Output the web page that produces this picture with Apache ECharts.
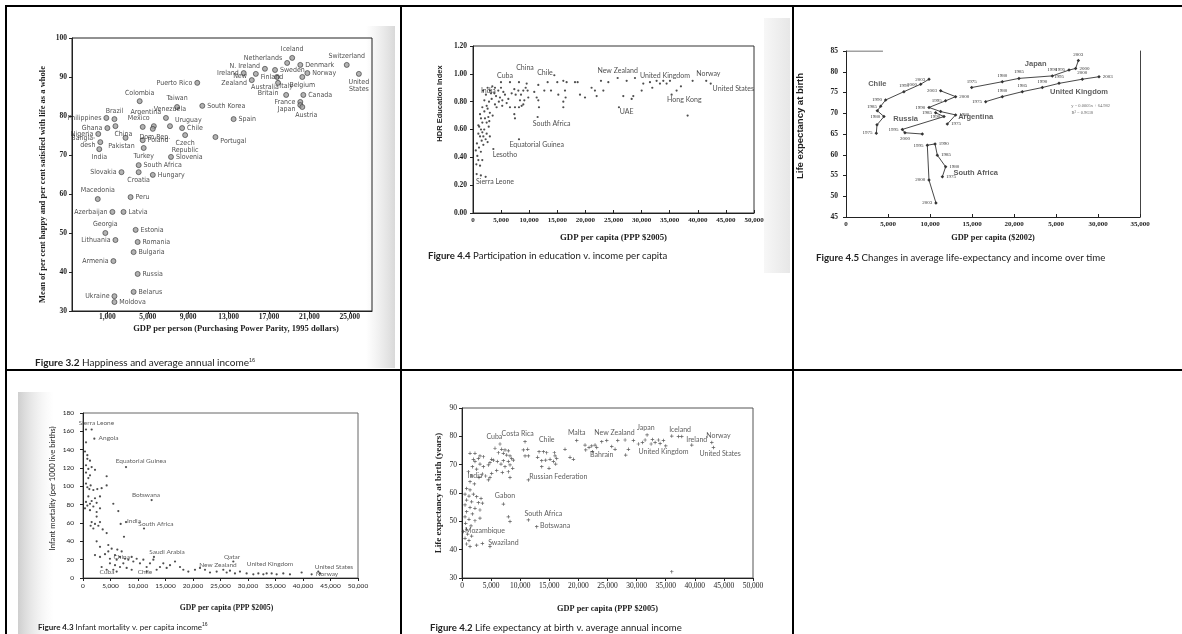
<!DOCTYPE html>
<html>
<head>
<meta charset="utf-8">
<script src="https://cdn.jsdelivr.net/npm/echarts@6.0.0/dist/echarts.min.js"></script>
<style>
html,body{margin:0;padding:0;background:#fff;}
#chart{width:1182px;height:634px;}
</style>
</head>
<body>
<div id="chart"></div>
<script>
// ===== Figure 3.2: Happiness and average annual income =====
const happyNames = ['Puerto Rico','Colombia','Taiwan','Philippines','Brazil','Argentina','Venezuela','Mexico','Uruguay','Ghana',
  'China','Dom.Rep.','Chile','Nigeria','Czech Republic','Poland','Pakistan','Bangladesh','India','Turkey',
  'Slovenia','South Africa','Slovakia','Croatia','Hungary','Iceland','Netherlands','Denmark','Switzerland','N. Ireland',
  'Sweden','Ireland','Finland','Norway','United States','Australia','New Zealand','Belgium','Britain','Italy',
  'Canada','France','Japan','Austria','South Korea','Spain','Portugal','Macedonia','Peru','Azerbaijan',
  'Latvia','Georgia','Estonia','Lithuania','Romania','Bulgaria','Armenia','Russia','Belarus','Ukraine','Moldova'];
const happyGdp = [9900,4200,7900,900,1700,5600,6800,4500,7200,1000,
  1800,5500,8400,100,8700,4500,2800,300,200,4600,
  7300,4100,2400,4100,5500,19300,18800,20100,24700,16600,
  17600,14500,15700,20800,25900,17800,15300,20300,17900,18700,
  20400,20100,20100,20300,10400,13500,11700,50,3300,1500,
  2600,800,3800,1800,4000,3600,1600,4000,3600,1700,1700];
const happyScore = [88.5,83.8,82.3,79.5,79.2,77.4,79.5,77.2,77.4,76.9,
  77.4,76.7,76.9,75.4,75.1,73.8,74.4,73.3,71.5,71.8,
  69.5,67.4,65.6,65.6,64.9,94.9,93.6,93.1,93.1,92.1,
  91.8,91.0,90.8,91.0,90.8,90.0,89.2,90.0,88.5,85.4,
  85.4,83.6,82.8,82.3,82.6,79.2,74.6,58.7,59.2,55.4,
  55.4,50.0,50.8,48.2,47.7,45.1,42.8,39.5,34.9,33.8,32.3];
const happyXTicks = [1000,5000,9000,13000,17000,21000,25000];

// ===== Figure 4.4: Participation in education v. income per capita =====
const eduPoints = [
 [650,0.28],[1400,0.27],[2250,0.26],[600,0.35],[1250,0.34],[950,0.38],[1650,0.38],
 [770,0.41],[1400,0.44],[500,0.45],[1070,0.47],[1840,0.49],[700,0.50],[1540,0.52],[2250,0.53],[2600,0.51],
 [1250,0.55],[1840,0.55],[3000,0.55],[950,0.57],[1660,0.58],[2430,0.57],[1420,0.60],[2000,0.60],
 [950,0.63],[1100,0.62],[2800,0.62],[1660,0.65],[2430,0.65],[2900,0.66],[1420,0.68],[2130,0.68],[2730,0.69],
 [1250,0.71],[3500,0.70],[2020,0.73],[3000,0.72],[2600,0.75],[1660,0.76],[2430,0.77],
 [2020,0.81],[2850,0.80],[3320,0.82],[3910,0.78],[4200,0.76],[3800,0.86],[2300,0.85],[1800,0.88],[2600,0.90],[3200,0.86],
 [3020,0.88],[3440,0.91],[3910,0.90],[4500,0.88],[4980,0.90],[5400,0.87],[4100,0.84],[4600,0.80],[5200,0.77],
 [5690,0.85],[4800,0.83],[5220,0.81],[5990,0.79],[6580,0.76],[6290,0.82],
 [6880,0.86],[7350,0.89],[7590,0.85],[8070,0.88],[8540,0.85],[8950,0.88],
 [9370,0.90],[8360,0.81],[9130,0.81],[7470,0.76],[8180,0.76],[8660,0.77],
 [7350,0.71],[7470,0.68],[4980,0.94],[6580,0.94],[8180,0.94],[9720,0.88],[9840,0.83],[8950,0.78],[9550,0.93],
 [11500,0.69],[8180,0.53],[3620,0.46],
 [10900,0.87],[11330,0.83],[11620,0.81],[11740,0.76],[11620,0.92],[12690,0.88],[13280,0.94],[13880,0.88],
 [14470,0.99],[15000,0.94],[15180,0.85],[16070,0.95],[16370,0.88],[16660,0.94],[16480,0.83],[16070,0.76],[16070,0.80],
 [18150,0.94],[18620,0.94],[19040,0.85],[19930,0.83],[21100,0.90],[21700,0.88],[22000,0.84],[22770,0.95],
 [24080,0.94],[23190,0.88],[25740,0.97],[26740,0.84],[27340,0.95],[28230,0.82],[28520,0.84],[28820,0.97],
 [30010,0.88],[30300,0.93],[31490,0.94],[31900,0.90],[32670,0.95],[33270,0.93],[33860,0.95],[34450,0.93],[35050,0.95],
 [36230,0.88],[37000,0.91],[39080,0.95],[41500,0.95],[42300,0.93],[35340,0.85],[25970,0.76],[38190,0.70]
];
const eduLabelNames = ['China','Cuba','Chile','India','New Zealand','United Kingdom','Norway','United States','Hong Kong','UAE','South Africa','Equatorial Guinea','Lesotho','Sierra Leone'];
const eduLabelX = [9250,5690,12810,2730,25740,34160,41870,46310,37600,27340,13990,11330,5690,3910];
const eduLabelY = [1.045,0.986,1.01,0.879,1.021,0.986,1.002,0.890,0.812,0.724,0.640,0.493,0.421,0.224];

// ===== Figure 4.5: Changes in average life-expectancy and income over time =====
const chileYears = [1975,1978,1980,1983,1985,1990,1995,2000,2003];
const chileGdp   = [3610,3690,4520,3730,4130,4720,6900,8890,9880];
const chileLife  = [65.2,67.2,69.2,70.6,71.7,73.2,75.2,77.0,78.2];
const russiaYears = [1985,1990,1995,2000,2003];
const russiaGdp   = [10670,11670,6706,7020,9087];
const russiaLife  = [70.1,69.2,66.1,65.3,65.0];
const argYears = [1975,1980,1985,1990,1995,2000,2003];
const argGdp   = [12060,13050,11270,9880,11860,13050,11270];
const argLife  = [67.4,69.6,70.4,71.4,73.0,74.0,75.4];
const japanYears = [1975,1980,1985,1990,1995,2000,2003];
const japanGdp   = [14960,18610,20590,24560,26550,27340,27660];
const japanLife  = [76.2,77.6,78.4,79.0,80.4,80.8,82.7];
const ukYears = [1975,1980,1985,1990,1995,2000,2003];
const ukGdp   = [16630,18610,20990,23370,25360,28130,30120];
const ukLife  = [72.8,74.0,75.2,76.2,77.2,78.2,78.8];
const saYears = [1975,1980,1985,1990,1995,2000,2003];
const saGdp   = [11470,11860,10870,10600,9680,9880,10710];
const saLife  = [54.7,57.1,59.9,62.6,62.3,53.9,48.4];
const lifeXTickLabels = ['0','5,000','10,000','15,000','20,000','5,000','30,000','35,000'];
const trendNames = ['Chile','Russia','Argentina','Japan','United Kingdom','South Africa'];
const trendNameX = [3730,7100,15440,22580,27740,15440];
const trendNameY = [77.0,68.7,69.0,81.9,75.2,55.5];
const trendNoteText = ['y = 0.0005x + 64.982','R² = 0.9638'];
const trendNoteX = [29130,28130];
const trendNoteY = [71.7,70.1];

// ===== Figure 4.3: Infant mortality v. per capita income =====
const imrPoints = [
 [545,162],[1576,162],[545,148],[2060,152],[364,138],[788,134],[790,130],[1270,128],[545,123],[1575,121],
 [970,119],[2180,118],[545,115],[1270,112],[970,109],[545,103],[1390,101],[790,99],[1150,97],[1880,96],
 [2600,97],[3390,98],[4300,101],[4300,111],[970,89],[2180,87],[3090,89],[1575,84],[545,83],[1270,81],
 [2480,82],[790,79],[1880,78],[364,76],[3090,76],[1270,74],[2480,72],[5510,81],[6420,73],[2480,67],
 [1575,61],[2180,59],[1390,57],[2790,57],[3090,61],[1880,54],[3580,53],[4300,49],[6850,59],[7820,61],
 [11090,54],[7450,45],[2480,40],[3090,34],[4600,36],[5210,32],[2180,25],[3090,23],[4000,26],[4600,29],
 [4900,21],[5820,25],[6120,20],[6730,23],[7640,21],[8240,20],[8850,23],[9150,18],[9760,21],[10360,16],
 [10970,20],[5820,14],[6730,12],[7940,11],[4300,9],[5510,9],[8850,9],[3390,12],[4900,16],[7030,29],
 [6240,31],[7330,16],[11570,12],[12180,16],[12790,20],[13390,9],[14000,12],[14600,16],[15210,11],[15820,14],
 [16730,18],[17640,12],[18240,9],[19150,7],[20360,9],[12900,23],[27330,18],[21270,11],[22180,9],[23090,6],
 [24300,7],[25510,9],[26120,6],[26720,8],[27630,5],[28540,7],[29750,5],[30970,4],[31880,5],[32790,4],
 [33390,5],[34300,5],[35210,4],[36420,5],[37630,4],[39750,6],[41570,4],[42780,7],[43090,5],[6120,7],
 [11570,7],[7820,121],[12480,85]
];
const imrLabelNames = ['Sierra Leone','Angola','Equatorial Guinea','Botswana','India','South Africa','Saudi Arabia','Qatar','New Zealand','United Kingdom','United States','Norway','Cuba','China','Chile'];
const imrLabelX = [2450,4640,10540,11450,9270,13270,15270,27090,24540,34000,45630,44360,4360,7030,11270];
const imrLabelY = [169,152.7,127.6,90.5,62.2,59.5,28.4,22.9,14.2,15.3,12.0,4.4,6.9,23.3,6.9];

// ===== Figure 4.2: Life expectancy at birth v. average annual income =====
const lifePoints = [
 [6530,77.3],[5670,75.8],[6820,75.4],[7390,75.2],[7960,74.9],[6250,74.2],[7100,74.0],[7680,73.4],[8250,73.1],[8540,72.2],
 [8820,71.6],[7960,71.1],[7100,71.4],[6070,71.1],[5390,71.6],[4810,70.7],[6700,70.2],[7390,69.3],[8250,69.9],[8710,68.7],
 [7960,67.5],[8250,65.5],[6930,67.2],[5960,67.9],
 [10830,78.1],[11290,75.4],[10540,75.2],[10830,73.1],[11400,73.1],[11400,64.6],
 [13240,74.6],[13980,74.6],[14550,74.2],[12990,72.6],[13700,71.4],[14380,71.6],[15130,71.9],[13700,69.3],[14950,68.7],
 [15870,74.2],[15990,73.1],[16270,72.2],[15700,71.1],[16100,70.2],[17700,75.4],[18560,72.6],[19140,71.9],
 [19710,78.5],[21140,76.9],[21260,75.2],[21830,76.1],[22290,76.6],[22860,76.9],[23150,76.1],[22400,74.6],[24010,78.1],
 [24870,78.5],[25730,76.4],[26300,75.4],[26760,78.5],[28020,78.7],[28590,75.4],[28130,73.4],[29450,78.5],[30310,77.3],
 [31000,77.8],[31460,78.7],[31800,80.5],[32490,77.3],[32720,78.9],[33180,77.8],[33750,78.7],[34040,77.5],[34610,78.5],
 [35010,76.6],[36040,80.1],[37190,79.9],[37760,79.9],[39480,76.9],[42920,77.8],[43200,76.1],[36040,32.2],
 [1380,74.0],[2230,74.0],[3090,73.1],[1950,71.9],[2810,72.2],[3670,72.8],[2230,71.1],[3090,70.2],[3670,69.3],[4530,69.9],
 [5100,71.9],[1780,69.3],[2520,68.4],[1090,67.5],[1660,66.0],[2920,65.5],[3500,66.7],[4070,66.0],[4810,65.5],[5100,66.9],
 [4530,64.6],[1380,64.0],[2120,63.2],
 [800,61.6],[1380,61.1],[520,59.6],[1200,58.9],[1950,59.6],[2520,58.7],[3270,58.1],[800,57.5],[1660,56.9],[2810,56.6],
 [3500,56.4],[520,55.8],[1380,54.9],[2230,54.6],[3090,54.0],[800,53.4],[1780,52.6],[520,51.6],[1200,50.7],[2230,50.2],
 [3090,51.1],[630,49.3],[1550,48.4],[800,47.2],[230,46.4],[970,45.5],[1660,44.8],[520,44.0],[1200,43.2],[800,42.0],
 [1380,41.1],[2520,41.6],[3500,42.2],[4810,41.1],
 [7110,56.1],[7960,51.6],[8250,49.9],[11400,50.5],[12840,48.1]
];
const lifeLabelNames = ['Cuba','Costa Rica','Chile','Malta','New Zealand','Japan','Iceland','Ireland','Norway','Bahrain','United Kingdom','United States','India','Russian Federation','Gabon','South Africa','Botswana','Mozambique','Swaziland'];
const lifeLabelX = [5560,9570,14550,19710,26190,31570,37470,40340,44060,24010,34610,44350,2230,16560,7390,13980,15990,3950,7110];
const lifeLabelY = [79.9,80.8,78.7,81.3,81.3,83.1,82.2,78.9,80.2,73.4,74.6,74.0,66.0,65.8,58.9,52.6,48.4,46.7,42.5];

// ===== presentation settings (not data) =====
const SERIF = "'Liberation Serif','DejaVu Serif',serif";
const SANS = "Lato,'Open Sans',sans-serif";
const NARROW = "'Liberation Sans Narrow','DejaVu Sans Condensed',sans-serif";
const ARIAL = "'Liberation Sans',Arial,sans-serif";
const INK = '#222';

const happyLabelPlace = {
 'Puerto Rico':['left'],'Colombia':['top'],'Taiwan':['top'],'Philippines':['left'],'Brazil':['top'],
 'Argentina':['top',-8,-6],'Venezuela':['top',4,0],'Mexico':['top',-4,0],'Uruguay':['right',0,-6],'Ghana':['left'],
 'China':['bottom',8,0],'Dom.Rep.':['bottom',2,0],'Chile':['right'],'Nigeria':['left'],'Czech Republic':['bottom'],
 'Poland':['right'],'Pakistan':['bottom',-4,0],'Bangladesh':['left'],'India':['bottom'],'Turkey':['bottom'],
 'Slovenia':['right'],'South Africa':['right'],'Slovakia':['left'],'Croatia':['bottom'],'Hungary':['right'],
 'Iceland':['top'],'Netherlands':['left',0,-5],'Denmark':['right'],'Switzerland':['top'],'N. Ireland':['left',0,-3],
 'Sweden':['right'],'Ireland':['left'],'Finland':['right',0,3],'Norway':['right'],'United States':['bottom'],
 'Australia':['bottom',-12,2],'New Zealand':['left'],'Belgium':['bottom'],'Britain':['bottom',-10,2],'Italy':['top'],
 'Canada':['right'],'France':['left'],'Japan':['left',0,4],'Austria':['bottom',4,0],'South Korea':['right'],
 'Spain':['right'],'Portugal':['right',0,4],'Macedonia':['top'],'Peru':['right'],'Azerbaijan':['left'],
 'Latvia':['right'],'Georgia':['top'],'Estonia':['right'],'Lithuania':['left'],'Romania':['right'],
 'Bulgaria':['right'],'Armenia':['left'],'Russia':['right'],'Belarus':['right'],'Ukraine':['left'],'Moldova':['right']
};
const happyLabelText = {'Czech Republic':'Czech\nRepublic','Bangladesh':'Bangla-\ndesh','United States':'United\nStates','New Zealand':'New\nZealand'};

const yearLabelPlace = {
 Chile:{1975:'left',1980:'left',1985:'left',1990:'left',1995:'top',2000:'left',2003:'left'},
 Russia:{1985:'left',1990:'left',1995:'left',2000:'bottom'},
 Argentina:{1975:'right',1980:'right',1990:'left',1995:'left',2000:'right',2003:'left'},
 Japan:{1975:'top',1980:'top',1985:'top',1990:'top',1995:'left',2000:'right',2003:'top'},
 UK:{1975:'left',1980:'top',1985:'top',1990:'top',1995:'top',2000:'top',2003:'right'},
 SA:{1975:'right',1980:'right',1985:'right',1990:'right',1995:'left',2000:'left',2003:'left'}
};

const comma = v => String(Math.round(v)).replace(/\B(?=(\d{3})+(?!\d))/g, ',');

function valueAxis(grid, o) {
  return {
    type: 'value', gridIndex: grid, min: o.min, max: o.max, interval: o.interval,
    position: o.position, splitLine: {show: false},
    axisLine: {show: true, onZero: false, lineStyle: {color: o.lineColor || INK, width: 1}},
    axisTick: {show: o.tick !== false, inside: !!o.tickInside, length: 3, lineStyle: {color: INK}, customValues: o.custom},
    axisLabel: {show: o.labels !== false, color: INK, fontSize: o.fs || 7, fontFamily: o.ff || SERIF, fontWeight: o.fw || 'bold',
      margin: o.margin == null ? 4 : o.margin, formatter: o.formatter, customValues: o.custom,
      showMinLabel: true, showMaxLabel: true},
    name: o.name, nameLocation: 'middle', nameGap: o.nameGap,
    nameTextStyle: {color: INK, fontSize: o.nfs || 7.5, fontFamily: o.nff || SERIF, fontWeight: o.nfw || 'bold', padding: o.npad || 0}
  };
}

function textSeries(xi, yi, names, xs, ys, style) {
  return {
    type: 'scatter', xAxisIndex: xi, yAxisIndex: yi, symbolSize: 1, silent: true, z: 5,
    itemStyle: {color: 'rgba(0,0,0,0)'},
    label: Object.assign({show: true, position: 'inside', formatter: '{b}', color: INK}, style),
    data: names.map((n, i) => ({name: n, value: [xs[i], ys[i]]}))
  };
}

function trendSeries(key, years, gdp, life) {
  const place = yearLabelPlace[key];
  return {
    type: 'line', xAxisIndex: 2, yAxisIndex: 2, symbol: 'diamond', symbolSize: 3.5,
    lineStyle: {color: '#333', width: 0.9}, itemStyle: {color: '#333'},
    data: years.map((y, i) => ({
      value: [gdp[i], life[i]],
      label: {show: !!place[y], position: place[y] || 'top', formatter: String(y), distance: 2,
        fontSize: 5, fontFamily: SERIF, color: '#333'}
    }))
  };
}

const chart = echarts.init(document.getElementById('chart'), null, {renderer: 'canvas'});

const option = {
  animation: false,
  backgroundColor: '#fff',
  grid: [
    {left: 72, top: 38, width: 300, height: 273, show: true, borderColor: '#222', borderWidth: 1, backgroundColor: 'transparent', outerBoundsMode: 'none'},
    {left: 473, top: 46, width: 281, height: 167, show: true, borderColor: '#333', borderWidth: 1, backgroundColor: 'transparent', outerBoundsMode: 'none'},
    {left: 846, top: 51, width: 294, height: 166, show: false, outerBoundsMode: 'none'},
    {left: 83, top: 413, width: 275, height: 165, show: true, borderColor: '#666', borderWidth: 1, backgroundColor: 'transparent', outerBoundsMode: 'none'},
    {left: 462, top: 408, width: 291, height: 170, show: true, borderColor: '#555', borderWidth: 1, backgroundColor: 'transparent', outerBoundsMode: 'none'}
  ],
  xAxis: [
    valueAxis(0, {min: -2500, max: 27200, custom: happyXTicks, formatter: comma, margin: 2, fs: 7.5,
      name: 'GDP per person (Purchasing Power Parity, 1995 dollars)', nameGap: 13, nfs: 8.5, npad: [0, 0, 0, 28]}),
    valueAxis(1, {min: 0, max: 50000, interval: 5000, formatter: comma, margin: 4, fs: 7, tickInside: true,
      name: 'GDP per capita (PPP $2005)', nameGap: 20, nfs: 8.8}),
    valueAxis(2, {min: 0, max: 35000, interval: 5000, formatter: v => lifeXTickLabels[Math.round(v / 5000)], margin: 4, fs: 7, tickInside: true,
      name: 'GDP per capita ($2002)', nameGap: 17, nfs: 8.3}),
    valueAxis(3, {min: 0, max: 50000, interval: 5000, formatter: comma, margin: 4, fs: 6.5, ff: SANS, fw: 'normal',
      name: 'GDP per capita (PPP $2005)', nameGap: 26, nfs: 7.7, npad: [0, 0, 0, 12]}),
    valueAxis(4, {min: 0, max: 50000, interval: 5000, formatter: comma, margin: 4, fs: 7.5, fw: 'normal',
      name: 'GDP per capita (PPP $2005)', nameGap: 27, nfs: 8.3})
  ],
  yAxis: [
    valueAxis(0, {min: 30, max: 100, interval: 10, margin: 5, fs: 7.5,
      name: 'Mean of per cent happy and per cent satisfied with life as a whole', nameGap: 25, nfs: 8.5, npad: [0, 20, 0, 0]}),
    valueAxis(1, {min: 0, max: 1.2, interval: 0.2, formatter: v => v.toFixed(2), margin: 6, fs: 7.5,
      name: 'HDR Education Index', nameGap: 29, nfs: 7.5, nff: ARIAL, npad: [0, 0, 0, 52]}),
    valueAxis(2, {min: 45, max: 85, interval: 5, margin: 8, fs: 7.5,
      name: 'Life expectancy at birth', nameGap: 41, nfs: 9.5, nff: ARIAL, npad: [0, 0, 0, 16]}),
    valueAxis(3, {min: 0, max: 180, interval: 20, margin: 9, fs: 6.5, ff: SANS, fw: 'normal',
      name: 'Infant mortality (per 1000 live births)', nameGap: 26, nfs: 7.7, nff: SANS, nfw: 'normal', npad: [0, 0, 0, 14]}),
    valueAxis(4, {min: 30, max: 90, interval: 10, margin: 5, fs: 7.5, fw: 'normal',
      name: 'Life expectancy at birth (years)', nameGap: 19, nfs: 9}),
    valueAxis(2, {min: 45, max: 85, interval: 5, position: 'right', tick: false, labels: false, lineColor: '#444'})
  ],
  series: [
    // Figure 3.2
    {
      type: 'scatter', xAxisIndex: 0, yAxisIndex: 0, symbol: 'circle', symbolSize: 5,
      itemStyle: {color: '#a0a0a0', borderColor: '#333', borderWidth: 0.8},
      label: {show: true, distance: 2, fontSize: 7, lineHeight: 7, fontFamily: NARROW, color: INK,
        formatter: p => happyLabelText[p.name] || p.name},
      data: happyNames.map((n, i) => {
        const p = happyLabelPlace[n] || ['right'];
        return {name: n, value: [happyGdp[i], happyScore[i]], label: {position: p[0], offset: [p[1] || 0, p[2] || 0]}};
      })
    },
    // Figure 4.4
    {type: 'scatter', xAxisIndex: 1, yAxisIndex: 1, symbol: 'circle', symbolSize: 2.2, itemStyle: {color: '#222'}, data: eduPoints},
    textSeries(1, 1, eduLabelNames, eduLabelX, eduLabelY, {fontSize: 7, fontFamily: SANS}),
    // Figure 4.5
    trendSeries('Chile', chileYears, chileGdp, chileLife),
    trendSeries('Russia', russiaYears, russiaGdp, russiaLife),
    trendSeries('Argentina', argYears, argGdp, argLife),
    trendSeries('Japan', japanYears, japanGdp, japanLife),
    trendSeries('UK', ukYears, ukGdp, ukLife),
    trendSeries('SA', saYears, saGdp, saLife),
    textSeries(2, 2, trendNames, trendNameX, trendNameY, {fontSize: 7.5, fontWeight: 'bold', fontFamily: ARIAL, color: '#333'}),
    textSeries(2, 2, trendNoteText, trendNoteX, trendNoteY, {fontSize: 4.5, fontFamily: SERIF, color: '#444'}),
    {type: 'line', xAxisIndex: 2, yAxisIndex: 2, symbol: 'none', lineStyle: {color: '#444', width: 1}, data: [[0, 85], [4400, 85]], silent: true},
    // Figure 4.3
    {type: 'scatter', xAxisIndex: 3, yAxisIndex: 3, symbol: 'circle', symbolSize: 2.2, itemStyle: {color: '#222'}, data: imrPoints},
    textSeries(3, 3, imrLabelNames, imrLabelX, imrLabelY, {fontSize: 6.5, fontFamily: SANS, color: '#333'}),
    // Figure 4.2
    {type: 'scatter', xAxisIndex: 4, yAxisIndex: 4, symbol: 'path://M2,0H3V2H5V3H3V5H2V3H0V2H2Z', symbolSize: 3.5, itemStyle: {color: '#333'}, data: lifePoints},
    textSeries(4, 4, lifeLabelNames, lifeLabelX, lifeLabelY, {fontSize: 7, fontFamily: SANS, color: '#333'})
  ],
  graphic: [
    // scan shading
    {type: 'rect', z: -10, shape: {x: 366, y: 26, width: 29, height: 342},
      style: {fill: new echarts.graphic.LinearGradient(0, 0, 1, 0, [{offset: 0, color: 'rgba(200,200,200,0)'}, {offset: 1, color: 'rgba(185,185,185,0.55)'}])}},
    {type: 'rect', z: -10, shape: {x: 764, y: 18, width: 26, height: 255},
      style: {fill: new echarts.graphic.LinearGradient(0, 0, 1, 0, [{offset: 0, color: 'rgba(215,215,215,0.2)'}, {offset: 1, color: 'rgba(215,215,215,0.6)'}])}},
    {type: 'rect', z: -10, shape: {x: 18, y: 392, width: 36, height: 242},
      style: {fill: new echarts.graphic.LinearGradient(0, 0, 1, 0, [{offset: 0, color: 'rgba(190,190,190,0.75)'}, {offset: 1, color: 'rgba(230,230,230,0)'}])}},
    // table rules
    {type: 'line', shape: {x1: 5, y1: 6, x2: 1182, y2: 6}, style: {stroke: '#000', lineWidth: 2}},
    {type: 'line', shape: {x1: 6, y1: 5, x2: 6, y2: 634}, style: {stroke: '#000', lineWidth: 2}},
    {type: 'line', shape: {x1: 401, y1: 6, x2: 401, y2: 634}, style: {stroke: '#000', lineWidth: 2}},
    {type: 'line', shape: {x1: 793, y1: 6, x2: 793, y2: 634}, style: {stroke: '#000', lineWidth: 2}},
    {type: 'line', shape: {x1: 6, y1: 370, x2: 1182, y2: 370}, style: {stroke: '#000', lineWidth: 2}},
    // captions
    {type: 'text', x: 35, y: 363, style: {text: '{b|Figure 3.2} Happiness and average annual income{s|16}', fontSize: 10, fontFamily: SANS, fill: '#222', verticalAlign: 'middle',
      rich: {b: {fontWeight: 'bold', fontSize: 10, fontFamily: SANS}, s: {fontSize: 5.5, verticalAlign: 'top', padding: [0, 0, 6, 0]}}}},
    {type: 'text', x: 428, y: 256, style: {text: '{b|Figure 4.4} Participation in education v. income per capita', fontSize: 9.6, fontFamily: SANS, fill: '#222', verticalAlign: 'middle',
      rich: {b: {fontWeight: 'bold', fontSize: 9.6, fontFamily: SANS}}}},
    {type: 'text', x: 816, y: 258, style: {text: '{b|Figure 4.5} Changes in average life-expectancy and income over time', fontSize: 9.7, fontFamily: SANS, fill: '#222', verticalAlign: 'middle',
      rich: {b: {fontWeight: 'bold', fontSize: 9.7, fontFamily: SANS}}}},
    {type: 'text', x: 38, y: 627, style: {text: '{b|Figure 4.3} Infant mortality v. per capita income{s|16}', fontSize: 8, fontFamily: SANS, fill: '#222', verticalAlign: 'middle',
      rich: {b: {fontWeight: 'bold', fontSize: 8, fontFamily: SANS}, s: {fontSize: 5, verticalAlign: 'top', padding: [0, 0, 5, 0]}}}},
    {type: 'text', x: 430, y: 628, style: {text: '{b|Figure 4.2} Life expectancy at birth v. average annual income', fontSize: 9.6, fontFamily: SANS, fill: '#222', verticalAlign: 'middle',
      rich: {b: {fontWeight: 'bold', fontSize: 9.6, fontFamily: SANS}}}}
  ]
};

chart.setOption(option);
</script>
</body>
</html>
